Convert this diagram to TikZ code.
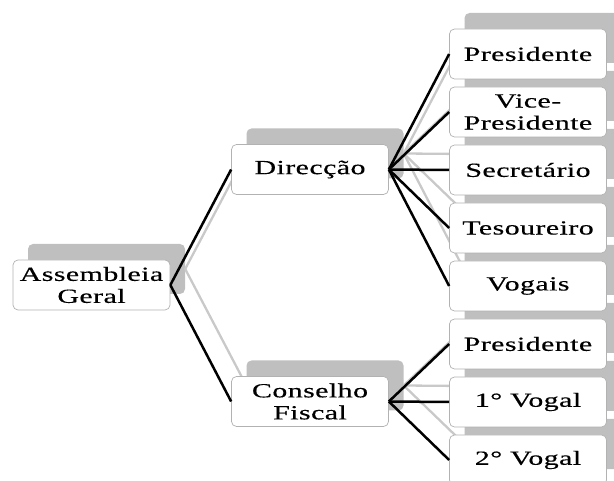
\documentclass[tikz,border=0pt]{standalone}
\usepackage{fontspec}
\setmainfont{Liberation Serif}[FakeStretch=1.5,FakeBold=0.35,LetterSpace=2]
\begin{document}
\begin{tikzpicture}[x=1pt,y=-1pt,
  wbox/.style={draw=gray!60, line width=0.7pt, fill=white, rounded corners=5pt,
    minimum width=157pt, minimum height=50pt, inner sep=0pt, align=center,
    font=\fontsize{20}{22}\selectfont},
  gbox/.style={fill=gray!50, rounded corners=5pt, minimum width=157pt,
    minimum height=50pt, inner sep=0pt},
  bl/.style={line width=2.5pt, black},
  gl/.style={line width=2.3pt, gray!42}]
\clip (0,0) rectangle (614,481);
% shadow (gray) boxes
\node[gbox] (ga)  at (106.5,269) {};
\node[gbox] (gd)  at (325,153.5) {};
\node[gbox] (gc)  at (325,385.5) {};
\node[gbox] (gp1) at (543,38) {};
\node[gbox] (gv)  at (543,96) {};
\node[gbox] (gs)  at (543,154) {};
\node[gbox] (gt)  at (543,212) {};
\node[gbox] (gvg) at (543,270) {};
\node[gbox] (gp2) at (543,328) {};
\node[gbox] (gv1) at (543,386) {};
\node[gbox] (gv2) at (543,444) {};
% gray connectors
\foreach \t in {gd,gc} \draw[gl] (ga.east) -- (\t.west);
\foreach \t in {gp1,gv,gs,gt,gvg} \draw[gl] (gd.east) -- (\t.west);
\foreach \t in {gp2,gv1,gv2} \draw[gl] (gc.east) -- (\t.west);
% white boxes
\node[wbox] (a)  at (91.5,285)  {Assembleia\\Geral};
\node[wbox] (d)  at (310,169.5) {Direcção};
\node[wbox] (c)  at (310,401.5) {Conselho\\Fiscal};
\node[wbox] (p1) at (528,54)  {Presidente};
\node[wbox] (v)  at (528,112) {Vice-\\Presidente};
\node[wbox] (s)  at (528,170) {Secretário};
\node[wbox] (t)  at (528,228) {Tesoureiro};
\node[wbox] (vg) at (528,286) {Vogais};
\node[wbox] (p2) at (528,344) {Presidente};
\node[wbox] (v1) at (528,402) {1° Vogal};
\node[wbox] (v2) at (528,460) {2° Vogal};
% black connectors
\foreach \t in {d,c} \draw[bl] (a.east) -- (\t.west);
\foreach \t in {p1,v,s,t,vg} \draw[bl] (d.east) -- (\t.west);
\foreach \t in {p2,v1,v2} \draw[bl] (c.east) -- (\t.west);
\end{tikzpicture}
\end{document}
